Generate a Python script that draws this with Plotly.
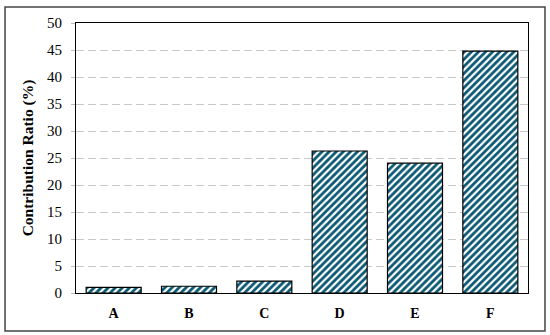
import plotly.graph_objects as go

categories = ["A", "B", "C", "D", "E", "F"]
values = [1.05, 1.25, 2.2, 26.3, 24.05, 44.8]
y_ticks = [0, 5, 10, 15, 20, 25, 30, 35, 40, 45, 50]

SERIF = "Liberation Serif, DejaVu Serif, serif"

fig = go.Figure()
fig.add_trace(go.Bar(
    x=categories, y=values,
    marker=dict(
        color="white",
        line=dict(color="black", width=1.2),
        pattern=dict(shape="/", fgcolor="#0b5873", bgcolor="white",
                     size=5, solidity=0.55, fgopacity=1),
    ),
))

fig.update_layout(
    width=550, height=335,
    margin=dict(l=76, r=22, t=23, b=42, autoexpand=False),
    paper_bgcolor="white", plot_bgcolor="white",
    bargap=0.27,
    showlegend=False,
    font=dict(family=SERIF, color="black", size=15),
    shapes=[dict(type="rect", xref="paper", yref="paper",
                 x0=-0.157, x1=1.0376, y0=-0.141, y1=1.059,
                 line=dict(color="#444", width=1.5), layer="below")],
)
fig.update_xaxes(
    showline=True, linecolor="black", linewidth=1.2, mirror=True,
    ticks="", tickfont=dict(size=14, family=SERIF, weight="bold"),
    ticklabelstandoff=7, automargin=False,
)
fig.update_yaxes(
    range=[0, 50], tickvals=y_ticks,
    showline=True, linecolor="black", linewidth=1.2, mirror=True,
    ticks="outside", ticklen=4, tickcolor="#bbb",
    showgrid=True, gridcolor="#c8c8c8", griddash="8px,4px", gridwidth=1,
    tickfont=dict(size=15), ticklabelstandoff=6,
    title=dict(text="<b>Contribution Ratio (%)</b>", font=dict(size=15.5), standoff=9),
    automargin=False,
)

fig.write_html("out.html", config={"displayModeBar": False},
               post_script="document.body.style.margin='0';")
